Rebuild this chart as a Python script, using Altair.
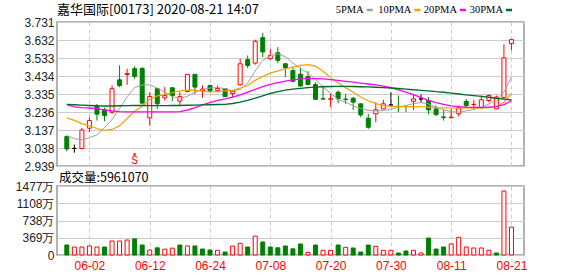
import altair as alt
import pandas as pd
import numpy as np

# ---------------- data ----------------
title_text = "嘉华国际[00173] 2020-08-21 14:07"
vol_title = "成交量:5961070"
tick_idx = [4, 12, 20, 28, 36, 44, 52, 60]
tick_dates = ["06-02", "06-12", "06-24", "07-08", "07-20", "07-30", "08-11", "08-21"]
price_ticks = [2.939, 3.038, 3.137, 3.236, 3.335, 3.434, 3.533, 3.632, 3.731]
vol_ticks = [0, 369.25, 738.5, 1107.75, 1477]
vol_tick_labels = ["0", "369万", "738万", "1108万", "1477万"]

opens = [3.101, 3.036, 3.035, 3.147, 3.268, 3.248, 3.235, 3.413, 3.442, 3.474,
         3.475, 3.204, 3.364, 3.314, 3.369, 3.296, 3.349, 3.443, 3.353, 3.382,
         3.355, 3.364, 3.338, 3.386, 3.524, 3.505, 3.645, 3.529, 3.562, 3.501,
         3.464, 3.444, 3.431, 3.387, 3.309, 3.306, 3.345, 3.307, 3.312, 3.281,
         3.202, 3.226, 3.253, 3.275, 3.267, 3.268, 3.295, 3.308, 3.299, 3.253,
         3.209, 3.205, 3.226, 3.294, 3.276, 3.259, 3.299, 3.253, 3.315, 3.612]
highs = [3.106, 3.057, 3.148, 3.207, 3.281, 3.259, 3.382, 3.492, 3.474, 3.487,
         3.483, 3.345, 3.367, 3.373, 3.373, 3.345, 3.443, 3.443, 3.382, 3.386,
         3.382, 3.365, 3.356, 3.529, 3.547, 3.634, 3.670, 3.584, 3.593, 3.505,
         3.480, 3.480, 3.460, 3.400, 3.382, 3.336, 3.354, 3.336, 3.318, 3.283,
         3.226, 3.290, 3.303, 3.345, 3.327, 3.268, 3.332, 3.332, 3.318, 3.272,
         3.248, 3.255, 3.272, 3.308, 3.303, 3.327, 3.332, 3.327, 3.608, 3.636]
lows = [3.020, 3.012, 3.033, 3.125, 3.189, 3.185, 3.226, 3.373, 3.386, 3.419,
        3.278, 3.161, 3.253, 3.299, 3.296, 3.272, 3.345, 3.336, 3.314, 3.342,
        3.345, 3.318, 3.316, 3.382, 3.478, 3.496, 3.538, 3.523, 3.505, 3.428,
        3.400, 3.375, 3.383, 3.303, 3.305, 3.262, 3.284, 3.281, 3.248, 3.207,
        3.143, 3.180, 3.252, 3.266, 3.235, 3.236, 3.248, 3.290, 3.222, 3.213,
        3.189, 3.200, 3.211, 3.259, 3.248, 3.259, 3.290, 3.253, 3.305, 3.575]
closes = [3.033, 3.036, 3.137, 3.189, 3.224, 3.217, 3.364, 3.382, 3.447, 3.432,
          3.285, 3.321, 3.281, 3.327, 3.327, 3.321, 3.443, 3.373, 3.362, 3.352,
          3.365, 3.321, 3.350, 3.501, 3.492, 3.625, 3.566, 3.547, 3.520, 3.479,
          3.405, 3.379, 3.387, 3.306, 3.307, 3.309, 3.309, 3.305, 3.290, 3.220,
          3.152, 3.248, 3.281, 3.275, 3.265, 3.266, 3.308, 3.308, 3.248, 3.222,
          3.205, 3.208, 3.259, 3.272, 3.278, 3.303, 3.327, 3.318, 3.534, 3.634]

ma5 = [3.106, 3.090, 3.083, 3.095, 3.110, 3.150, 3.195, 3.255, 3.320, 3.370,
       3.385, 3.385, 3.368, 3.345, 3.320, 3.312, 3.322, 3.345, 3.360, 3.368,
       3.370, 3.365, 3.352, 3.360, 3.395, 3.462, 3.520, 3.545, 3.556, 3.540,
       3.505, 3.475, 3.450, 3.415, 3.372, 3.340, 3.305, 3.290, 3.270, 3.255,
       3.245, 3.242, 3.244, 3.250, 3.262, 3.272, 3.282, 3.288, 3.280, 3.262,
       3.248, 3.238, 3.235, 3.242, 3.250, 3.262, 3.280, 3.300, 3.345, 3.428]
ma10 = [3.204, 3.190, 3.172, 3.160, 3.145, 3.135, 3.140, 3.160, 3.200, 3.240,
        3.268, 3.305, 3.325, 3.332, 3.342, 3.352, 3.356, 3.355, 3.350, 3.346,
        3.348, 3.352, 3.355, 3.368, 3.382, 3.410, 3.432, 3.450, 3.462, 3.474,
        3.483, 3.492, 3.496, 3.488, 3.460, 3.425, 3.395, 3.370, 3.345, 3.318,
        3.298, 3.282, 3.272, 3.268, 3.266, 3.266, 3.266, 3.265, 3.263, 3.260,
        3.259, 3.258, 3.258, 3.259, 3.259, 3.259, 3.260, 3.265, 3.290, 3.338]
ma20 = [3.276, 3.264, 3.260, 3.258, 3.254, 3.248, 3.242, 3.238, 3.237, 3.237,
        3.237, 3.237, 3.237, 3.237, 3.237, 3.238, 3.246, 3.260, 3.275, 3.288,
        3.300, 3.308, 3.318, 3.330, 3.345, 3.360, 3.375, 3.388, 3.398, 3.406,
        3.413, 3.418, 3.420, 3.420, 3.418, 3.414, 3.410, 3.405, 3.400, 3.395,
        3.390, 3.385, 3.378, 3.370, 3.358, 3.345, 3.332, 3.315, 3.300, 3.288,
        3.278, 3.270, 3.265, 3.262, 3.261, 3.261, 3.262, 3.266, 3.276, 3.298]
ma30 = [3.278, 3.276, 3.274, 3.272, 3.270, 3.269, 3.269, 3.270, 3.271, 3.272,
        3.272, 3.271, 3.271, 3.271, 3.272, 3.272, 3.273, 3.274, 3.275, 3.276,
        3.277, 3.278, 3.283, 3.290, 3.300, 3.312, 3.325, 3.338, 3.348, 3.356,
        3.362, 3.366, 3.370, 3.373, 3.375, 3.376, 3.377, 3.377, 3.376, 3.375,
        3.374, 3.372, 3.370, 3.368, 3.365, 3.362, 3.358, 3.355, 3.352, 3.348,
        3.345, 3.340, 3.335, 3.330, 3.326, 3.322, 3.317, 3.312, 3.307, 3.303]

volumes = [214, 171, 171, 193, 171, 171, 300, 300, 321, 346,
           214, 107, 154, 125, 146, 214, 193, 193, 128, 107,
           100, 64, 190, 250, 171, 404, 278, 171, 154, 193,
           132, 236, 57, 214, 100, 100, 214, 164, 150, 64,
           214, 186, 100, 100, 43, 86, 100, 43, 364, 128,
           171, 236, 378, 171, 150, 150, 100, 43, 1370, 596.107]
vol_up = [0, 1, 1, 1, 1, 0, 1, 1, 1, 0,
          0, 1, 0, 1, 1, 0, 1, 0, 0, 0,
          1, 0, 1, 1, 0, 1, 0, 0, 0, 0,
          0, 0, 1, 0, 1, 1, 0, 1, 0, 0,
          0, 1, 1, 1, 0, 0, 1, 1, 0, 0,
          0, 1, 1, 1, 1, 1, 1, 0, 1, 1]

ma_names = ["5PMA", "10PMA", "20PMA", "30PMA"]
ma_colors = ["#a0a0a0", "#f5a000", "#ff00ff", "#006a2a"]
signal_idx = [10]
signal_text = ["S"]

# ---------------- tables ----------------
idx = list(range(1, 61))
df = pd.DataFrame({"i": idx, "open": opens, "high": highs, "low": lows,
                   "close": closes, "vol": volumes})
o = np.array(opens); c = np.array(closes)
df["dir"] = np.where(c > o, "up", np.where(c < o, "down", "flat"))
df["vdir"] = np.where(np.array(vol_up) == 1, "up", "down")

ma_long = pd.concat([
    pd.DataFrame({"i": idx, "v": vals, "s": name})
    for name, vals in zip(ma_names, [ma5, ma10, ma20, ma30])
])

RED = "#ff0000"
GREEN = "#008000"
dir_dom = ["up", "down", "flat"]
stroke_scale = alt.Scale(domain=dir_dom, range=[RED, GREEN, "#000000"])
fill_scale = alt.Scale(domain=dir_dom, range=["#ffffff", GREEN, "#000000"])

AX_FONT = "Liberation Sans"
CJK = "Noto Sans CJK SC"

x_scale = alt.Scale(domain=[0.36, 61.0], nice=False, zero=False)
x_axis_top = alt.Axis(values=tick_idx, labels=False, ticks=False, domain=False,
                      grid=True, gridDash=[4, 3], gridColor="#cccccc", title=None)
date_expr = "[" + ",".join("'%s'" % d for d in tick_dates) + "][round((datum.value-4)/8)]"
x_axis_bot = alt.Axis(values=tick_idx, labelExpr=date_expr, ticks=False, domain=False,
                      grid=True, gridDash=[4, 3], gridColor="#cccccc", title=None,
                      labelColor=RED, labelFont=AX_FONT, labelFontSize=12,
                      labelPadding=5, labelOverlap=False, labelFlush=False)

p_scale = alt.Scale(domain=[price_ticks[0], price_ticks[-1]], nice=False, zero=False)
p_axis = alt.Axis(values=price_ticks, format=".3f", ticks=False, domain=False,
                  grid=True, gridColor="#cccccc", title=None, labelFont=AX_FONT,
                  labelFontSize=12, labelColor="#222222", labelPadding=3,
                  labelOverlap=False, labelFlush=False)

def X(field="i:Q", axis=x_axis_top):
    return alt.X(field, scale=x_scale, axis=axis)

def Y(field):
    return alt.Y(field, scale=p_scale, axis=p_axis)

base = alt.Chart(df)

wicks = base.mark_rule(strokeWidth=1).encode(
    x=X(), y=Y("low:Q"), y2="high:Q",
    stroke=alt.Stroke("dir:N", scale=stroke_scale, legend=None))

bodies = base.mark_bar(size=4, strokeWidth=1).encode(
    x=X(), y=Y("open:Q"), y2="close:Q",
    fill=alt.Fill("dir:N", scale=fill_scale, legend=None),
    stroke=alt.Stroke("dir:N", scale=stroke_scale, legend=None))

ma_layers = []
for name, col, w in zip(ma_names, ma_colors, [1.0, 1.2, 1.3, 1.4]):
    ma_layers.append(
        alt.Chart(ma_long[ma_long["s"] == name]).mark_line(color=col, strokeWidth=w).encode(
            x=X(), y=Y("v:Q")))

sig_df = pd.DataFrame({"i": signal_idx, "t": signal_text})
sig_text = alt.Chart(sig_df).mark_text(color=RED, fontSize=10, font=AX_FONT,
                                       baseline="middle").encode(
    x=X(), y=alt.value(139), text="t:N")
sig_arrow = alt.Chart(sig_df).mark_point(shape="triangle-up", filled=True, color=RED,
                                         size=14, opacity=1).encode(
    x=X(), y=alt.value(132))

one = alt.Data(values=[{}])
title_mark = alt.Chart(one).mark_text(text=title_text, align="left", baseline="middle",
                                      font=CJK, fontSize=13, color="#000000").encode(
    x=alt.value(0), y=alt.value(-12))

leg_text_right = [306.7, 354.4, 400.0, 446.0]
leg_layers = []
for name, col, xr in zip(ma_names, ma_colors, leg_text_right):
    leg_layers.append(alt.Chart(one).mark_text(text=name, align="right", baseline="middle",
                                               font="Liberation Serif", fontSize=10.5,
                                               color="#000000").encode(
        x=alt.value(xr), y=alt.value(-12)))
    leg_layers.append(alt.Chart(one).mark_rule(color=col, strokeWidth=2.5).encode(
        x=alt.value(xr + 3), x2=alt.value(xr + 9), y=alt.value(-12)))

price = alt.layer(wicks, bodies, *ma_layers, sig_arrow, sig_text, title_mark,
                  *leg_layers).properties(width=467, height=144)

# ---------------- volume panel ----------------
v_scale = alt.Scale(domain=[0, vol_ticks[-1]], nice=False, zero=True)
vlab_expr = "[" + ",".join("'%s'" % s for s in vol_tick_labels) + "][round(datum.value/369.25)]"
v_axis = alt.Axis(values=vol_ticks, labelExpr=vlab_expr, ticks=False, domain=False,
                  grid=True, gridColor="#cccccc", title=None, labelFont=AX_FONT,
                  labelFontSize=12, labelColor="#222222", labelPadding=3,
                  labelOverlap=False, labelFlush=False)

vbars = base.mark_bar(size=4, strokeWidth=1).encode(
    x=X(axis=x_axis_bot),
    y=alt.Y("vol:Q", scale=v_scale, axis=v_axis),
    fill=alt.Fill("vdir:N", scale=alt.Scale(domain=["up", "down"], range=["#ffffff", GREEN]), legend=None),
    stroke=alt.Stroke("vdir:N", scale=alt.Scale(domain=["up", "down"], range=[RED, GREEN]), legend=None))

vtitle = alt.Chart(one).mark_text(text=vol_title, align="left", baseline="middle",
                                  font=CJK, fontSize=12.5, color="#000000").encode(
    x=alt.value(2), y=alt.value(-8))

volume = alt.layer(vbars, vtitle).properties(width=467, height=69)

chart = alt.vconcat(price, volume, spacing=20, bounds="flush").properties(
    padding={"left": 14, "top": 3, "right": 5, "bottom": 0},
    background="white",
).configure_view(stroke="#999999", strokeWidth=1.5)

chart.save("out.html", embed_options={"renderer": "svg", "actions": False})
